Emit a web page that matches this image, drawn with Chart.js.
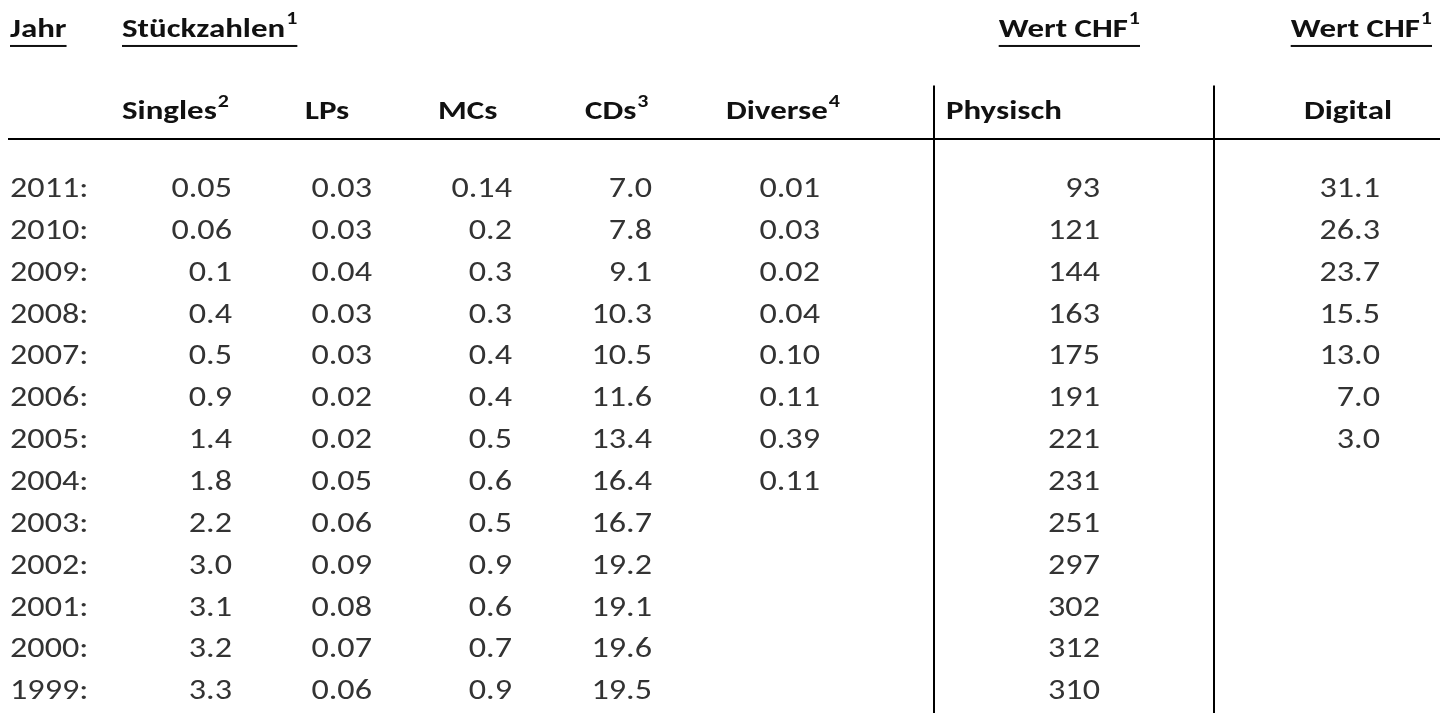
<!DOCTYPE html>
<html><head><meta charset="utf-8">
<script src="https://cdn.jsdelivr.net/npm/chart.js@4/dist/chart.umd.min.js"></script>
<style>html,body{margin:0;padding:0;background:#fff;overflow:hidden}#c{display:block}</style>
</head><body><canvas id="c" width="1440" height="713"></canvas>
<script>
// table content
const years = ['2011','2010','2009','2008','2007','2006','2005','2004','2003','2002','2001','2000','1999'];
const singles = ['0.05','0.06','0.1','0.4','0.5','0.9','1.4','1.8','2.2','3.0','3.1','3.2','3.3'];
const lps = ['0.03','0.03','0.04','0.03','0.03','0.02','0.02','0.05','0.06','0.09','0.08','0.07','0.06'];
const mcs = ['0.14','0.2','0.3','0.3','0.4','0.4','0.5','0.6','0.5','0.9','0.6','0.7','0.9'];
const cds = ['7.0','7.8','9.1','10.3','10.5','11.6','13.4','16.4','16.7','19.2','19.1','19.6','19.5'];
const diverse = ['0.01','0.03','0.02','0.04','0.10','0.11','0.39','0.11'];
const physisch = ['93','121','144','163','175','191','221','231','251','297','302','312','310'];
const digital = ['31.1','26.3','23.7','15.5','13.0','7.0','3.0'];
const topHeaders = [['Jahr',''],['Stückzahlen','1'],['Wert CHF','1'],['Wert CHF','1']];
const subHeaders = [['Singles','2'],['LPs',''],['MCs',''],['CDs','3'],['Diverse','4'],['Physisch',''],['Digital','']];

// layout (pixel anchors on the x scale)
const colX = [10, 232, 372, 512, 652, 820, 1100, 1380];
const topX = [10, 122, 1140, 1432];
const topAlign = ['left','left','right','right'];
const subX = [122, 305, 438, 585, 726, 946, 1392];
const subAlign = ['left','left','left','left','left','left','right'];
const FONT = 'Carlito, Lato, "Open Sans", sans-serif';
const STRETCH = 1.22; // reference glyphs are wider than Lato

const cols = [years.map(y => y + ':'), singles, lps, mcs, cds, diverse, physisch, digital];
const datasets = cols.map((vals, ci) => ({
  label: 'c' + ci,
  data: vals.map((v, ri) => ({x: colX[ci], y: ri, t: v})),
  align: ci === 0 ? 'left' : 'right',
  pointRadius: 0
}));

function wideText(ctx, txt, x, y, align) {
  ctx.save();
  ctx.translate(x, y);
  ctx.scale(STRETCH, 1);
  ctx.textAlign = align;
  ctx.fillText(txt, 0, 0);
  ctx.restore();
}

const tablePlugin = {
  id: 'table',
  beforeDraw(chart) {
    const ctx = chart.ctx;
    ctx.save(); ctx.fillStyle = '#fff'; ctx.fillRect(0, 0, chart.width, chart.height); ctx.restore();
  },
  afterDatasetsDraw(chart) {
    const ctx = chart.ctx, sx = chart.scales.x, sy = chart.scales.y;
    ctx.save();
    ctx.textBaseline = 'middle';
    // cells
    ctx.fillStyle = '#333';
    ctx.font = '28px ' + FONT;
    chart.data.datasets.forEach((ds, di) => {
      chart.getDatasetMeta(di).data.forEach((el, i) => wideText(ctx, ds.data[i].t, el.x, el.y + 2, ds.align));
    });
    const drawSup = (txt, sup, x, y, align, underline) => {
      ctx.font = 'bold 27px ' + FONT;
      const w = ctx.measureText(txt).width * STRETCH;
      ctx.font = 'bold 18px ' + FONT;
      const ws = sup ? ctx.measureText(sup).width * STRETCH + 1 : 0;
      const left = align === 'right' ? x - w - ws : x;
      ctx.font = 'bold 27px ' + FONT;
      wideText(ctx, txt, left, y, 'left');
      if (sup) { ctx.font = 'bold 18px ' + FONT; wideText(ctx, sup, left + w + 1, y - 10, 'left'); }
      if (underline) ctx.fillRect(left, y + 15, w + ws, 2);
    };
    ctx.fillStyle = '#111';
    topHeaders.forEach((h, i) => drawSup(h[0], h[1], sx.getPixelForValue(topX[i]), sy.getPixelForValue(-3.8) + 1, topAlign[i], true));
    subHeaders.forEach((h, i) => drawSup(h[0], h[1], sx.getPixelForValue(subX[i]), sy.getPixelForValue(-1.85) + 2, subAlign[i], false));
    // rules
    ctx.strokeStyle = '#000'; ctx.lineWidth = 2;
    ctx.beginPath();
    const hy = sy.getPixelForValue(-1.17);
    ctx.moveTo(sx.getPixelForValue(8), hy); ctx.lineTo(sx.getPixelForValue(1440), hy);
    [934, 1214].forEach(v => {
      const px = sx.getPixelForValue(v);
      ctx.moveTo(px, sy.getPixelForValue(-2.45)); ctx.lineTo(px, sy.getPixelForValue(13));
    });
    ctx.stroke();
    ctx.restore();
  }
};

new Chart(document.getElementById('c'), {
  type: 'scatter',
  data: { datasets },
  options: {
    responsive: false, animation: false,
    layout: { padding: 0 },
    plugins: { legend: { display: false }, tooltip: { enabled: false } },
    scales: {
      x: { type: 'linear', min: 0, max: 1440, display: false },
      // row index axis: row 0 at y=188, step ~41.85px
      y: { type: 'linear', reverse: true, min: -188 / 41.85, max: (713 - 188) / 41.85, display: false }
    }
  },
  plugins: [tablePlugin]
});
</script></body></html>
